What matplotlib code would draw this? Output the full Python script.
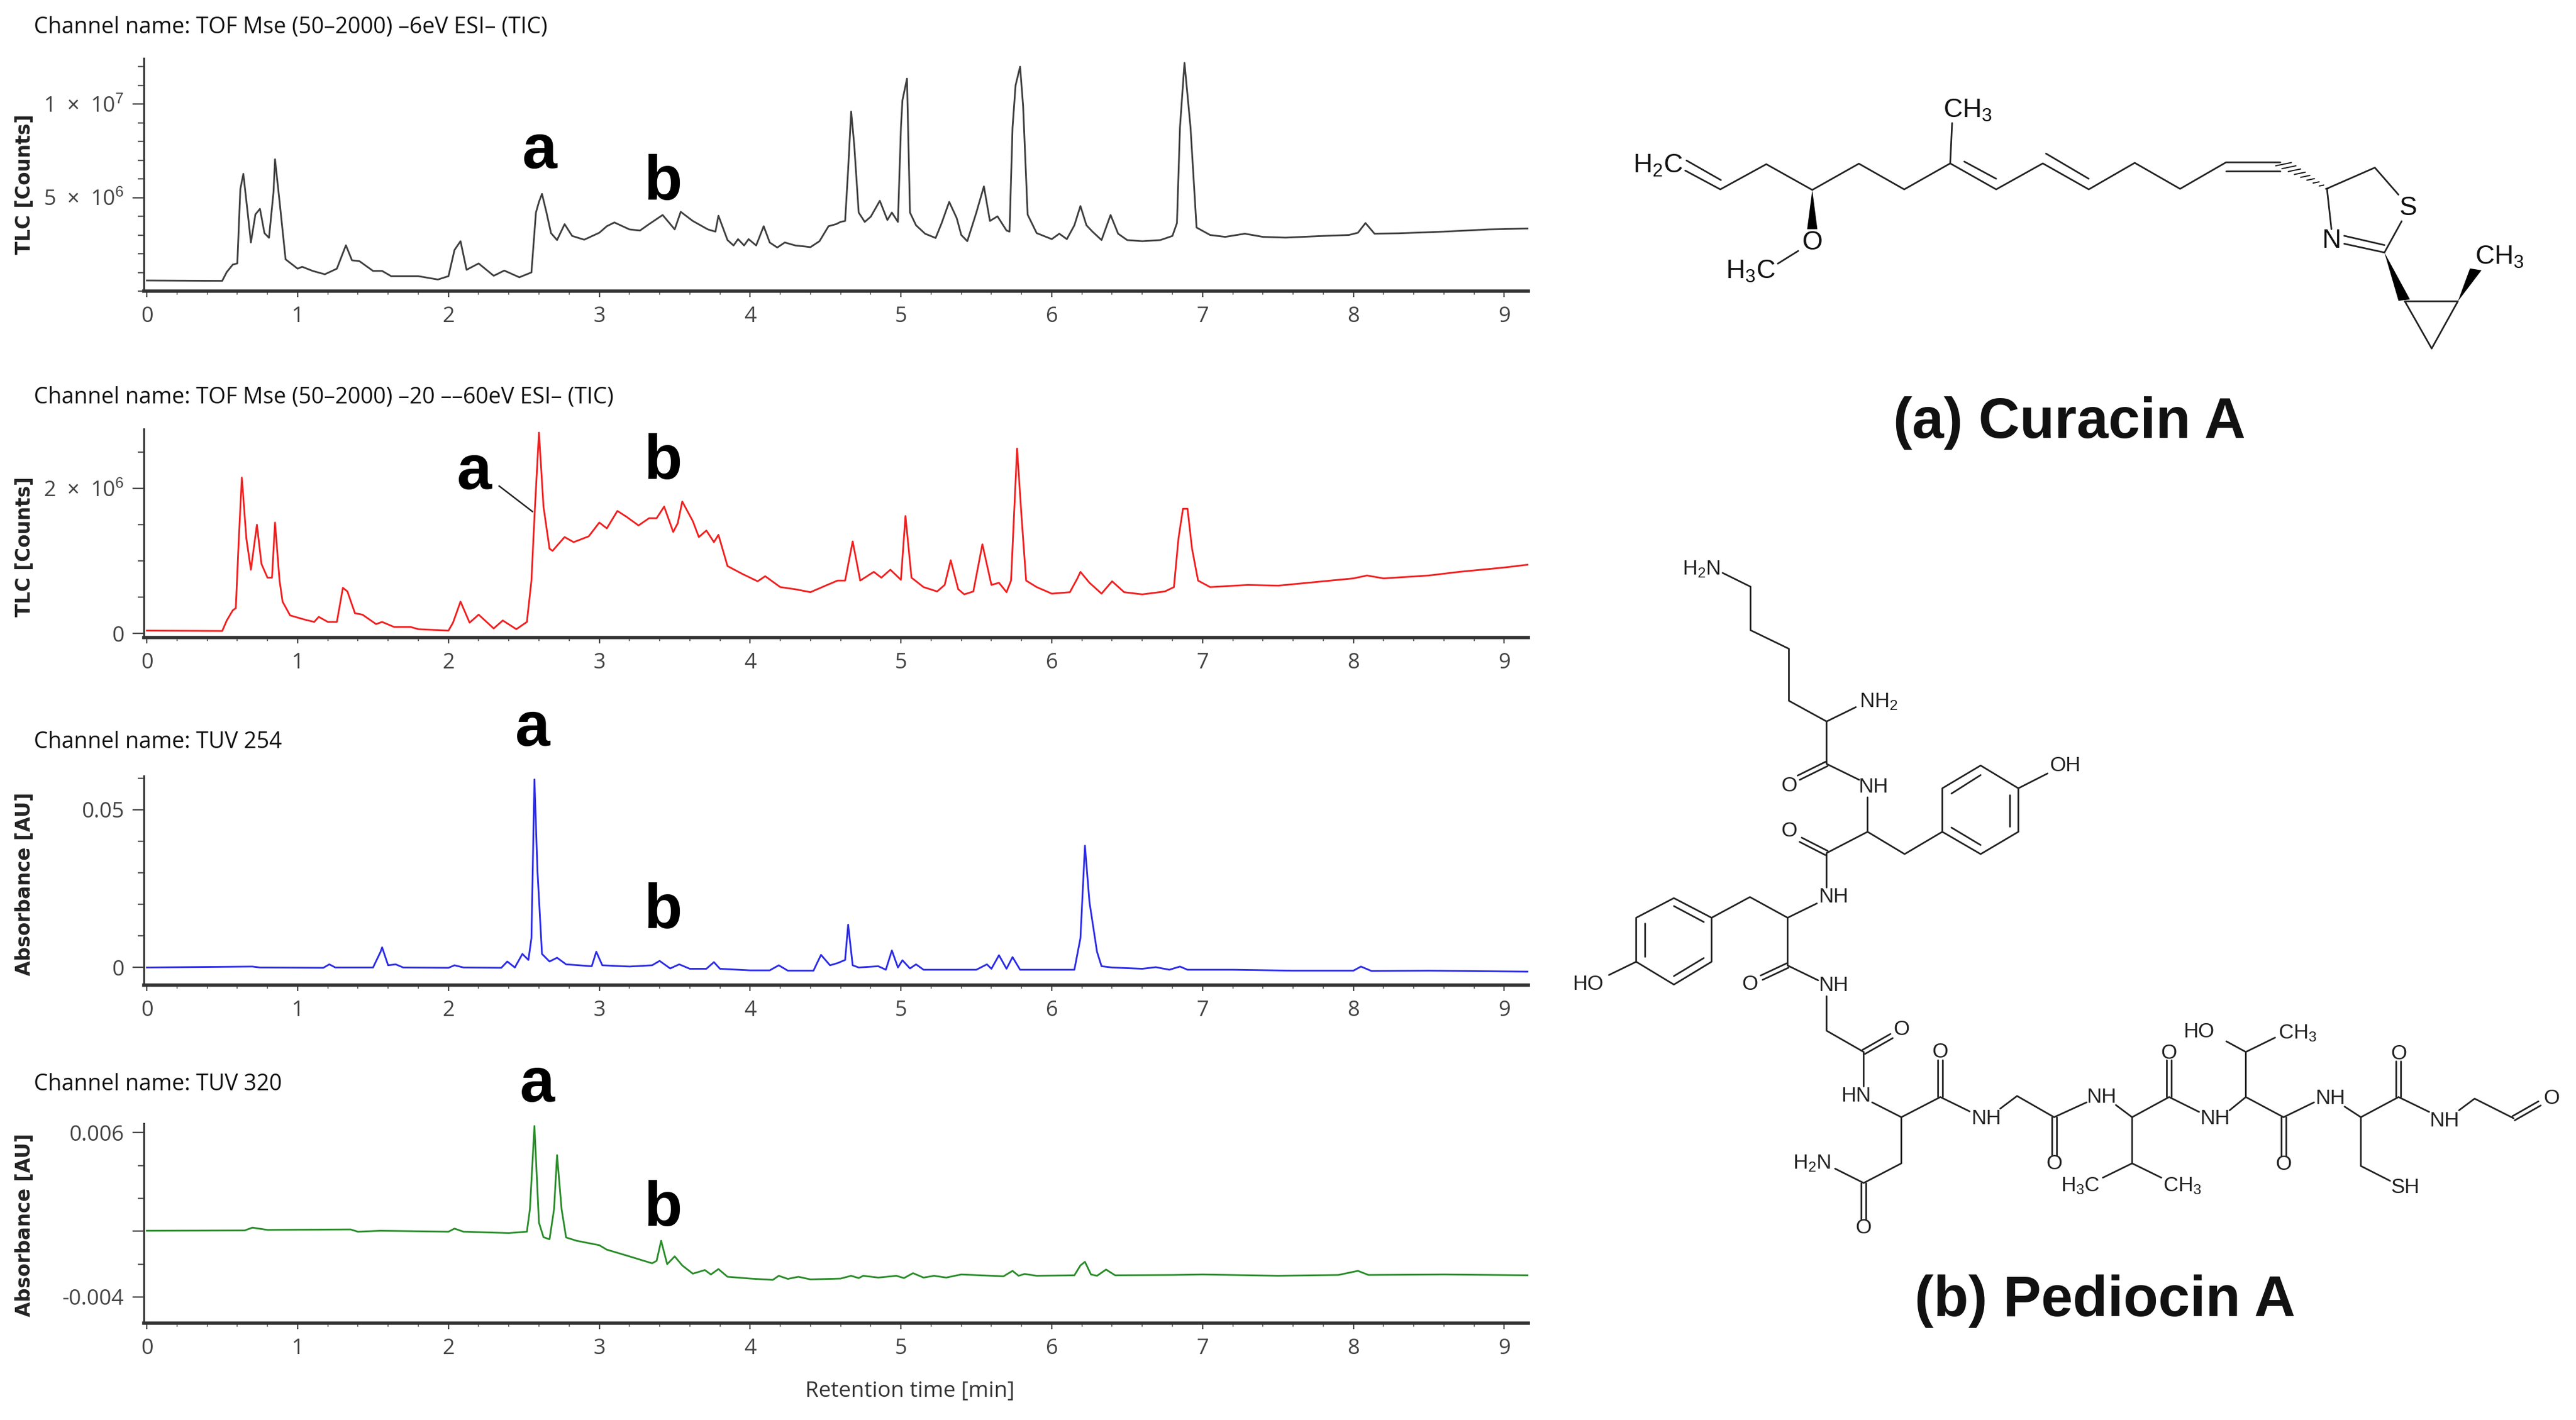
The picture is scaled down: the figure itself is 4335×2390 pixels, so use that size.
import matplotlib
matplotlib.use("Agg")
import matplotlib.pyplot as plt
from matplotlib.patches import Polygon
from matplotlib.ticker import MultipleLocator

plt.rcParams['font.family'] = ['Open Sans', 'DejaVu Sans']
plt.rcParams['mathtext.fontset'] = 'custom'
plt.rcParams['mathtext.rm'] = 'Liberation Sans'
plt.rcParams['mathtext.default'] = 'rm'

W, H = 4335, 2390

# TIC -6eV, counts in 1e6
t1 = [0, .5, .53, .57, .6, .62, .64, .67, .69, .72, .75, .78, .81, .84, .85, .88, .92, 1.0, 1.03, 1.1, 1.18, 1.26, 1.32,
      1.36, 1.41, 1.5, 1.56, 1.62, 1.8, 1.93, 2.0, 2.04, 2.08, 2.12, 2.2, 2.3, 2.37, 2.47, 2.55, 2.58, 2.6, 2.62, 2.65,
      2.68, 2.72, 2.77, 2.82, 2.9, 3.0, 3.05, 3.1, 3.2, 3.27, 3.33, 3.42, 3.5, 3.54, 3.62, 3.72, 3.77, 3.79, 3.85, 3.89,
      3.92, 3.96, 3.99, 4.04, 4.09, 4.13, 4.18, 4.23, 4.3, 4.36, 4.4, 4.46, 4.52, 4.57, 4.6, 4.63, 4.65, 4.67, 4.69, 4.72,
      4.76, 4.8, 4.86, 4.91, 4.94, 4.98, 5.0, 5.01, 5.04, 5.06, 5.1, 5.16, 5.23, 5.27, 5.32, 5.37, 5.4, 5.44, 5.5, 5.55,
      5.59, 5.64, 5.7, 5.72, 5.74, 5.76, 5.79, 5.81, 5.84, 5.9, 6.0, 6.05, 6.1, 6.15, 6.19, 6.23, 6.27, 6.33, 6.39, 6.44,
      6.5, 6.6, 6.72, 6.8, 6.83, 6.85, 6.88, 6.92, 6.96, 7.05, 7.15, 7.28, 7.4, 7.55, 7.8, 7.97, 8.03, 8.08, 8.14, 8.3,
      8.6, 8.9, 9.16]
tic1 = [.57, .55, 1.02, 1.42, 1.48, 5.45, 6.27, 4.1, 2.6, 4.1, 4.4, 3.1, 2.85, 5.3, 7.05, 4.8, 1.7, 1.2, 1.3, 1.08, .9,
        1.2, 2.45, 1.65, 1.6, 1.08, 1.08, .8, .8, .62, .8, 2.2, 2.67, 1.14, 1.48, .82, 1.1, .74, 1.0, 4.2, 4.77, 5.2, 4.2,
        3.1, 2.73, 3.58, 2.95, 2.75, 3.12, 3.47, 3.67, 3.3, 3.24, 3.58, 4.07, 3.3, 4.24, 3.75, 3.3, 3.18, 4.03, 2.73, 2.44,
        2.78, 2.44, 2.78, 2.44, 3.47, 2.6, 2.33, 2.6, 2.44, 2.39, 2.35, 2.67, 3.47, 3.58, 3.7, 3.75, 6.5, 9.6, 7.84, 4.2,
        3.7, 3.98, 4.83, 3.8, 4.2, 3.7, 8.75, 10.2, 11.36, 4.2, 3.52, 3.07, 2.84, 3.64, 4.77, 3.9, 3.0, 2.67, 4.2, 5.6,
        3.75, 4.0, 3.24, 3.18, 8.75, 11.0, 12.0, 9.9, 4.09, 3.1, 2.78, 3.07, 2.78, 3.52, 4.55, 3.52, 3.18, 2.73, 4.07,
        3.07, 2.73, 2.67, 2.73, 2.95, 3.64, 8.75, 12.2, 8.75, 3.4, 3.0, 2.9, 3.07, 2.9, 2.86, 2.95, 3.0, 3.12, 3.64, 3.07,
        3.09, 3.18, 3.3, 3.35]

# TIC -20 - -60eV, counts in 1e6
t2 = [0, .5, .53, .57, .59, .61, .63, .66, .69, .73, .76, .8, .83, .85, .88, .9, .95, 1.05, 1.11, 1.14, 1.2, 1.26, 1.3,
      1.33, 1.38, 1.43, 1.52, 1.56, 1.64, 1.75, 1.8, 2.0, 2.03, 2.08, 2.14, 2.2, 2.3, 2.36, 2.45, 2.52, 2.55, 2.57, 2.6,
      2.63, 2.67, 2.69, 2.77, 2.83, 2.93, 3.0, 3.05, 3.12, 3.18, 3.26, 3.33, 3.38, 3.43, 3.49, 3.52, 3.55, 3.62, 3.66,
      3.71, 3.76, 3.79, 3.85, 3.95, 4.05, 4.1, 4.2, 4.3, 4.4, 4.5, 4.58, 4.63, 4.68, 4.73, 4.82, 4.87, 4.93, 5.0, 5.03,
      5.07, 5.15, 5.24, 5.29, 5.33, 5.38, 5.42, 5.48, 5.54, 5.6, 5.65, 5.7, 5.73, 5.77, 5.8, 5.83, 5.9, 6.0, 6.12, 6.17,
      6.19, 6.25, 6.33, 6.4, 6.48, 6.6, 6.75, 6.81, 6.84, 6.87, 6.9, 6.93, 6.97, 7.05, 7.3, 7.5, 7.8, 8.0, 8.09, 8.2,
      8.5, 8.7, 9.0, 9.16]
tic2 = [.04, .035, .18, .32, .35, 1.31, 2.15, 1.31, .88, 1.5, .96, .77, .77, 1.53, .73, .44, .25, .19, .16, .23, .16, .16,
        .63, .58, .28, .26, .13, .16, .09, .09, .06, .04, .15, .44, .15, .26, .07, .18, .06, .16, .73, 1.6, 2.77, 1.75,
        1.17, 1.14, 1.33, 1.26, 1.34, 1.53, 1.45, 1.69, 1.61, 1.49, 1.59, 1.59, 1.75, 1.4, 1.52, 1.82, 1.55, 1.33, 1.42,
        1.26, 1.36, .93, .82, .72, .79, .64, .61, .57, .66, .73, .73, 1.27, .73, .85, .77, .88, .74, 1.62, .77, .64, .58,
        .67, 1.01, .61, .54, .58, 1.23, .67, .7, .57, .73, 2.55, 1.6, .73, .64, .55, .57, .76, .85, .7, .55, .72, .57,
        .54, .58, .64, 1.31, 1.72, 1.72, 1.17, .73, .64, .67, .66, .72, .76, .8, .76, .8, .85, .91, .95]

# TUV 254, absorbance in 1e-3 AU
t3 = [0, .7, .75, 1.17, 1.21, 1.25, 1.5, 1.55, 1.56, 1.6, 1.65, 1.7, 2.0, 2.04, 2.1, 2.35, 2.39, 2.44, 2.49, 2.53, 2.55,
      2.57, 2.59, 2.62, 2.67, 2.72, 2.78, 2.95, 2.98, 3.02, 3.2, 3.35, 3.4, 3.47, 3.53, 3.6, 3.71, 3.76, 3.8, 4.0, 4.13,
      4.19, 4.25, 4.42, 4.47, 4.53, 4.58, 4.63, 4.65, 4.68, 4.72, 4.85, 4.9, 4.94, 4.98, 5.01, 5.06, 5.1, 5.15, 5.5, 5.57,
      5.6, 5.65, 5.7, 5.74, 5.79, 6.15, 6.19, 6.22, 6.25, 6.3, 6.33, 6.4, 6.6, 6.69, 6.78, 6.85, 6.9, 7.2, 7.6, 8.0, 8.05,
      8.12, 8.5, 9.16]
tuv254 = [0, .3, 0, -.1, 1, 0, 0, 5, 6.4, .7, 1, 0, -.1, .7, 0, -.1, 1.9, 0, 4.3, 2.4, 9.3, 59.6, 30.7, 4.3, 1.9, 3.1, 1, .4,
          5, .7, .3, .7, 2.1, -.3, 1, -.4, -.4, 1.7, -.4, -.9, -.9, .7, -1, -1, 4, .7, 1.4, 2.4, 13.6, .7, 0, .4, -.7, 5.4,
          0, 2.3, -.3, 1, -.7, -.7, 1, -.4, 3.9, -.4, 3.3, -.7, -.7, 9.3, 38.6, 20.7, 5, .4, 0, -.4, .1, -.7, .3, -.7, -.7,
          -1, -1, .3, -1.1, -1, -1.3]

# TUV 320, absorbance in 1e-3 AU
t4 = [0, .65, .7, .8, 1.35, 1.4, 1.55, 2.0, 2.04, 2.1, 2.4, 2.52, 2.54, 2.57, 2.6, 2.63, 2.67, 2.7, 2.72, 2.75, 2.78, 2.85,
      3.0, 3.05, 3.2, 3.35, 3.38, 3.41, 3.45, 3.5, 3.55, 3.62, 3.7, 3.74, 3.79, 3.85, 4.0, 4.15, 4.19, 4.25, 4.32, 4.4, 4.6,
      4.67, 4.72, 4.75, 4.85, 4.97, 5.02, 5.08, 5.15, 5.22, 5.3, 5.4, 5.6, 5.68, 5.74, 5.78, 5.82, 5.9, 6.15, 6.19, 6.22,
      6.26, 6.3, 6.36, 6.42, 6.8, 7.0, 7.5, 7.9, 8.03, 8.1, 8.6, 9.16]
tuv320 = [.03, .05, .22, .08, .11, -.03, .03, -.03, .16, -.03, -.11, -.03, 1.34, 6.4, .52, -.36, -.49, 1.34, 4.63, 1.34,
          -.38, -.58, -.85, -1.12, -1.53, -1.95, -1.8, -.58, -2, -1.53, -2.08, -2.58, -2.36, -2.63, -2.3, -2.77, -2.88,
          -2.96, -2.71, -2.9, -2.77, -2.93, -2.88, -2.71, -2.85, -2.71, -2.82, -2.71, -2.85, -2.55, -2.82, -2.71, -2.82,
          -2.63, -2.71, -2.74, -2.41, -2.71, -2.6, -2.71, -2.68, -2.08, -1.86, -2.63, -2.71, -2.33, -2.68, -2.66, -2.63,
          -2.71, -2.66, -2.41, -2.66, -2.63, -2.68]

x_major = [0, 1, 2, 3, 4, 5, 6, 7, 8, 9]
channels = ["Channel name: TOF Mse (50\u20132000) \u20136eV ESI\u2013 (TIC)",
            "Channel name: TOF Mse (50\u20132000) \u201320 \u2013\u201360eV ESI\u2013 (TIC)",
            "Channel name: TUV 254",
            "Channel name: TUV 320"]

fig = plt.figure(figsize=(W / 100, H / 100), dpi=100)


def panel(top, bottom, t, v, color, ylim, yticks, ylabels, minor, ylabel, ylabel_y):
    ax = fig.add_axes([242 / W, 1 - bottom / H, (2572 - 242) / W, (bottom - top) / H])
    ax.plot(t, v, color=color, lw=2.1, solid_joinstyle='round')
    ax.set_xlim(-0.02, 9.16)
    ax.set_ylim(*ylim)
    for s in ['top', 'right']:
        ax.spines[s].set_visible(False)
    ax.spines['left'].set_linewidth(2.2)
    ax.spines['left'].set_color('#333333')
    ax.spines['bottom'].set_linewidth(4)
    ax.spines['bottom'].set_color('#333333')
    ax.set_xticks(x_major)
    ax.xaxis.set_minor_locator(MultipleLocator(0.2))
    ax.set_yticks(yticks)
    ax.set_yticklabels(ylabels)
    ax.yaxis.set_minor_locator(MultipleLocator(minor))
    ax.tick_params(axis='x', which='major', length=7, width=1.6, color='#444444', labelsize=26, labelcolor='#444444', pad=11)
    ax.tick_params(axis='x', which='minor', length=4, width=1.3, color='#666666')
    ax.tick_params(axis='y', which='major', length=14, width=1.7, color='#444444', labelsize=26, labelcolor='#444444', pad=10)
    ax.tick_params(axis='y', which='minor', length=7, width=1.7, color='#555555')
    fig.text(42 / W, 1 - ylabel_y / H, ylabel, rotation=90, ha='center', va='center',
             family='DejaVu Sans', fontweight='bold', fontsize=23.5, color='#222222')
    return ax


panel(98, 490, t1, tic1, '#3f3f3f', (0, 12.45), [5, 10], [r'5  $\times$  10$^{6}$', r'1  $\times$  10$^{7}$'], 1, 'TLC [Counts]', 310)
panel(722, 1073, t2, tic2, '#f02020', (-0.055, 2.82), [0, 2], ['0', r'2  $\times$  10$^{6}$'], 0.5, 'TLC [Counts]', 920)
panel(1306, 1658, t3, tuv254, '#2c2ce6', (-5.57, 60.7), [0, 50], ['0', '0.05'], 10, 'Absorbance [AU]', 1488)
panel(1891, 2227, t4, tuv320, '#2a8c2a', (-5.59, 6.55), [-4, 0, 6], ['-0.004', '', '0.006'], 2, 'Absorbance [AU]', 2062)

# overlay in pixels for labels and the two structures
ov = fig.add_axes([0, 0, 1, 1])
ov.set_xlim(0, W)
ov.set_ylim(H, 0)
ov.axis('off')
ov.patch.set_alpha(0)

for txt, y in zip(channels, [45, 668, 1249, 1825]):
    ov.text(57, y, txt, fontsize=27, color='#111111', va='center', ha='left')
ov.text(1531, 2342, 'Retention time [min]', fontsize=26.5, color='#333333', ha='center', va='center')

# peak letters
letters = ['a', 'b', 'a', 'b', 'a', 'b', 'a', 'b']
letter_x = [908, 1115, 798, 1115, 896, 1115, 904, 1115]
letter_y = [255, 308, 795, 778, 1227, 1534, 1826, 2035]
for s, x, y in zip(letters, letter_x, letter_y):
    ov.text(x, y, s, fontsize=76, fontweight='bold', family='Liberation Sans', color='black', ha='center', va='center')
ov.plot([840, 896], [818, 861], color='#222222', lw=1.8)

ov.text(3482, 712, '(a) Curacin A', fontsize=69, fontweight='bold', family='Liberation Sans', ha='center', va='center', color='#111111')
ov.text(3542, 2190, '(b) Pediocin A', fontsize=69, fontweight='bold', family='Liberation Sans', ha='center', va='center', color='#111111')

BOND = dict(color='#222222', lw=2.0, solid_capstyle='round', solid_joinstyle='round')
CUR_ATOM = dict(family='Liberation Sans', fontsize=32, color='#111111', ha='center', va='center')
PED_ATOM = dict(family='Liberation Sans', fontsize=25, color='#222222', ha='center', va='center')


def cur(p):
    return 2650 + p[0] * 1685 / 1568, 100 + p[1] * 700 / 1568


def ped(p):
    return 2620 + p[0] * 1715 / 1568, 900 + p[1] * 1400 / 1568


def draw_lines(lines, conv):
    for line in lines:
        pts = [conv(p) for p in line]
        ov.plot([p[0] for p in pts], [p[1] for p in pts], **BOND)


def draw_double(lines, conv, off=7):
    for a, b in lines:
        ax_, ay_ = conv(a)
        bx_, by_ = conv(b)
        dx, dy = bx_ - ax_, by_ - ay_
        n = (dx * dx + dy * dy) ** 0.5
        nx, ny = -dy / n * off, dx / n * off
        ov.plot([ax_ + nx, bx_ + nx], [ay_ + ny, by_ + ny], **BOND)
        ov.plot([ax_ - nx, bx_ - nx], [ay_ - ny, by_ - ny], **BOND)


# Curacin A
cur_lines = [
    [(173, 419), (228, 490), (300, 395), (372, 492), (445, 393), (516, 490), (588, 392), (660, 490), (733, 392),
     (805, 490), (877, 390), (948, 488), (1020, 388), (1105, 388)],
    [(1020, 420), (1105, 420)],
    [(175, 381), (229, 455)],
    [(610, 385), (660, 450)],
    [(738, 355), (805, 450)],
    [(588, 392), (591, 240)],
    [(1178, 487), (1253, 408), (1290, 510)],
    [(1295, 610), (1268, 728), (1205, 695)],
    [(1268, 700), (1205, 665)],
    [(1185, 640), (1178, 487)],
    [(350, 722), (318, 770)],
    [(1300, 912), (1383, 912), (1342, 1090), (1300, 912)],
]
draw_lines(cur_lines, cur)
for wedge in [[(372, 492), (364, 640), (380, 640)], [(1268, 728), (1290, 910), (1308, 905)], [(1383, 912), (1402, 788), (1420, 795)]]:
    ov.add_patch(Polygon([cur(p) for p in wedge], closed=True, color='black', lw=0))
for k in range(9):
    f = k / 8
    x0, y0 = 1110 + (1178 - 1110) * f, 395 + (487 - 395) * f
    half = 12 - 10 * f
    p, q = cur((x0 - half, y0 + half * 0.5)), cur((x0 + half, y0 - half * 0.5))
    ov.plot([p[0], q[0]], [p[1], q[1]], color='#111111', lw=1.4)
for s, p in [('H$_2$C', (130, 400)), ('CH$_3$', (615, 192)), ('O', (372, 690)), ('H$_3$C', (275, 800)),
             ('S', (1305, 560)), ('N', (1185, 685)), ('CH$_3$', (1448, 745))]:
    ov.text(*cur(p), s, **CUR_ATOM)

# Pediocin A
ped_lines = [
    [(255, 72), (298, 98), (298, 180), (357, 215), (357, 313), (415, 352), (460, 325)],
    [(415, 352), (415, 432), (465, 462)],
    [(478, 495), (478, 560), (415, 600), (415, 665)],
    [(478, 560), (535, 602), (593, 560), (593, 478), (652, 435), (710, 478), (710, 560), (652, 602), (593, 560)],
    [(710, 478), (755, 450)],
    [(400, 695), (355, 722), (297, 683), (238, 722), (180, 685), (122, 722), (122, 805), (180, 848), (238, 805), (238, 722)],
    [(122, 805), (80, 830)],
    [(355, 722), (355, 812), (402, 840)],
    [(415, 870), (415, 935), (472, 975), (472, 1040)],
    [(485, 1070), (530, 1098), (590, 1060), (635, 1087)],
    [(682, 1082), (708, 1058), (765, 1098), (815, 1070)],
    [(860, 1075), (885, 1098), (942, 1060), (988, 1088)],
    [(1035, 1085), (1060, 1060), (1118, 1098), (1165, 1070)],
    [(1060, 1060), (1060, 975), (1030, 955)],
    [(1060, 975), (1105, 948)],
    [(1212, 1078), (1237, 1098), (1295, 1060), (1342, 1088)],
    [(1237, 1098), (1237, 1190), (1282, 1218)],
    [(1388, 1085), (1412, 1063), (1472, 1100)],
    [(885, 1098), (885, 1185), (840, 1212)],
    [(885, 1185), (930, 1212)],
    [(530, 1098), (530, 1185), (472, 1222), (428, 1195)],
    # ring inner lines
    [(607, 488), (652, 453)], [(697, 490), (697, 550)], [(607, 552), (652, 585)],
    [(180, 700), (226, 730)], [(135, 732), (135, 795)], [(180, 832), (226, 798)],
]
draw_lines(ped_lines, ped)
ped_double = [
    [(415, 432), (372, 458)], [(415, 600), (375, 575)], [(355, 812), (315, 835)], [(472, 975), (515, 945)],
    [(590, 1060), (590, 990)], [(765, 1098), (765, 1170)], [(942, 1060), (942, 990)], [(1118, 1098), (1118, 1172)],
    [(1295, 1060), (1295, 992)], [(1472, 1100), (1512, 1072)], [(472, 1222), (472, 1290)],
]
draw_double(ped_double, ped, off=4)
ped_atoms = [('H$_2$N', (222, 65)), ('NH$_2$', (495, 315)), ('O', (357, 473)), ('NH', (487, 475)), ('O', (357, 558)),
             ('OH', (782, 435)), ('NH', (425, 683)), ('HO', (48, 847)), ('O', (297, 847)), ('NH', (425, 850)),
             ('O', (530, 932)), ('HN', (460, 1058)), ('O', (590, 975)), ('NH', (660, 1100)), ('O', (765, 1185)),
             ('NH', (838, 1060)), ('O', (942, 977)), ('NH', (1012, 1100)), ('HO', (988, 937)), ('CH$_3$', (1140, 940)),
             ('O', (1118, 1187)), ('NH', (1190, 1062)), ('SH', (1305, 1230)), ('O', (1295, 978)), ('NH', (1365, 1105)),
             ('O', (1530, 1062)), ('H$_3$C', (805, 1228)), ('CH$_3$', (962, 1228)), ('O', (472, 1307)), ('H$_2$N', (392, 1185))]
for s, p in ped_atoms:
    ov.text(*ped(p), s, **PED_ATOM)

fig.savefig('out.png', dpi=100, facecolor='white')
